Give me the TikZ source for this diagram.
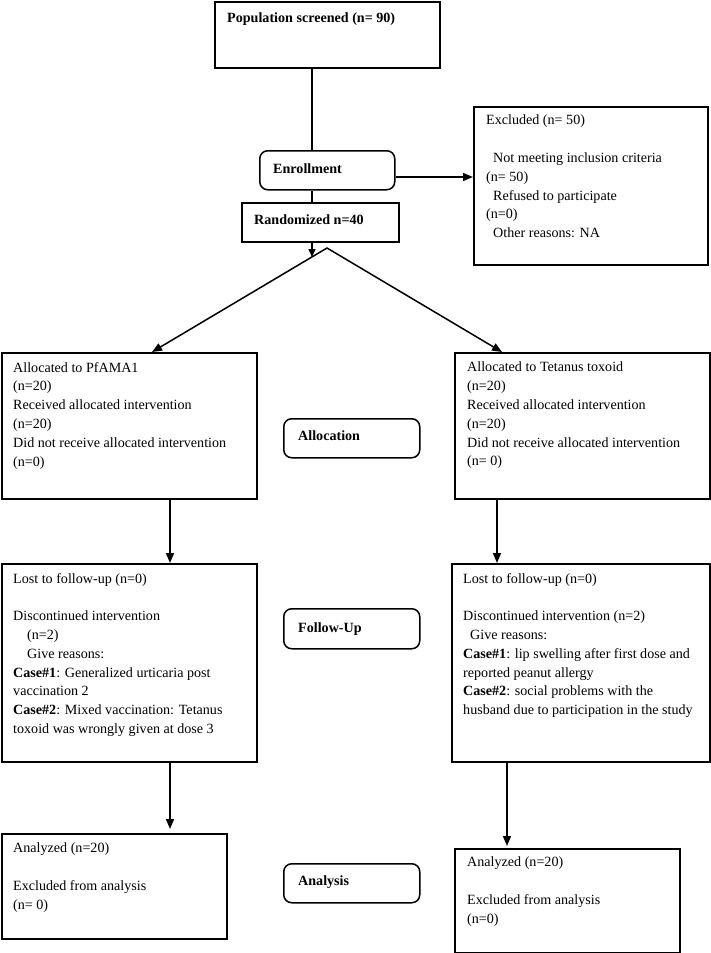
\documentclass[tikz,border=0pt]{standalone}
\usepackage{fontspec}
\setmainfont{Liberation Serif}
\usetikzlibrary{arrows.meta}
\newcommand\fs{\fontsize{14.1}{18.8}\selectfont}
\begin{document}
\begin{tikzpicture}[x=1pt,y=-1pt,
  box/.style={draw, line width=1.5pt, inner sep=0pt, anchor=north west},
  rbox/.style={box, rounded corners=8pt},
  txt/.style={anchor=north west, inner sep=0pt, align=left, font=\fs, execute at begin node=\strut},
  btxt/.style={txt, font=\fs\bfseries},
  ln/.style={line width=1.5pt},
  arr/.style={line width=1.5pt, -{Triangle[length=10pt,width=8pt]}},
  sarr/.style={line width=1.5pt, -{Triangle[length=8pt,width=7pt]}}]
\useasboundingbox (0,0) rectangle (710,953);

% boxes
\node[box, minimum width=225pt, minimum height=66pt] (pop) at (214,1) {};
\node[rbox, minimum width=135pt, minimum height=39pt] (enroll) at (259,150) {};
\node[box, minimum width=157pt, minimum height=39pt] (rand) at (241,202) {};
\node[box, minimum width=234pt, minimum height=158pt] (excl) at (473,106) {};
\node[box, minimum width=255pt, minimum height=146pt] (allocL) at (1,352) {};
\node[box, minimum width=255pt, minimum height=146pt] (allocR) at (454,352) {};
\node[rbox, minimum width=136pt, minimum height=39pt] (allocation) at (283,418) {};
\node[box, minimum width=255pt, minimum height=198pt] (followL) at (1,563) {};
\node[box, minimum width=258pt, minimum height=198pt] (followR) at (451,563) {};
\node[rbox, minimum width=136pt, minimum height=40pt] (followup) at (283,608) {};
\node[box, minimum width=225pt, minimum height=105pt] (anL) at (1,833) {};
\node[box, minimum width=225pt, minimum height=104pt] (anR) at (454,848) {};
\node[rbox, minimum width=136pt, minimum height=39pt] (analysis) at (283,863) {};

% texts
\node[btxt] (poptxt) at (227,9.5) {Population screened (n= 90)};
\node[btxt] (enrolltxt) at (273,160) {Enrollment};
\node[btxt] (randtxt) at (254,211) {Randomized n=40};
\node[txt] (excltxt) at (486,115) {Excluded (n= 50)\\[18.8pt]\hspace*{7pt}Not meeting inclusion criteria\\(n= 50)\\\hspace*{7pt}Refused to participate\\(n=0)\\\hspace*{7pt}Other reasons: NA};
\node[txt] (allocLtxt) at (13,362) {Allocated to PfAMA1\\(n=20)\\Received allocated intervention\\(n=20)\\Did not receive allocated intervention\\(n=0)};
\node[txt] (allocRtxt) at (467,362) {Allocated to Tetanus toxoid\\(n=20)\\Received allocated intervention\\(n=20)\\Did not receive allocated intervention\\(n= 0)};
\node[btxt] (allocationtxt) at (298,427) {Allocation};
\node[txt] (followLtxt) at (13,573) {Lost to follow-up (n=0)\\[18.8pt]Discontinued intervention\\\hspace*{14pt}(n=2)\\\hspace*{14pt}Give reasons:\\\textbf{Case\#1}: Generalized urticaria post\\vaccination 2\\\textbf{Case\#2}: Mixed vaccination: Tetanus\\toxoid was wrongly given at dose 3};
\node[txt] (followRtxt) at (463,573) {Lost to follow-up (n=0)\\[18.8pt]Discontinued intervention (n=2)\\\hspace*{7pt}Give reasons:\\\textbf{Case\#1}: lip swelling after first dose and\\reported peanut allergy\\\textbf{Case\#2}: social problems with the\\husband due to participation in the study};
\node[btxt] (followuptxt) at (298,619) {Follow-Up};
\node[txt] (anLtxt) at (13,843) {Analyzed (n=20)\\[18.8pt]Excluded from analysis\\(n= 0)};
\node[txt] (anRtxt) at (467,857) {Analyzed (n=20)\\[18.8pt]Excluded from analysis\\(n=0)};
\node[btxt] (analysistxt) at (298,872) {Analysis};

% helper coordinates
\coordinate (spine) at (312,0);
\coordinate (exy) at (0,177);
\coordinate (split) at (312,257);
\coordinate (apex) at (327,248);
\coordinate (tipL) at (152,0);
\coordinate (tipR) at (502,0);
\coordinate (colL) at (170,0);
\coordinate (colR) at (497,0);
\coordinate (colR2) at (507,0);

% connectors
\draw[ln] (pop.south -| spine) -- (enroll.north -| spine);
\draw[arr] (enroll.east |- exy) -- (excl.west |- exy);
\draw[ln] (enroll.south -| spine) -- (rand.north -| spine);
\draw[sarr] (rand.south -| spine) -- (split);
\draw[line width=1.5pt, {Triangle[length=10pt,width=8pt]}-{Triangle[length=10pt,width=8pt]}] (allocL.north -| tipL) -- (apex) -- (allocR.north -| tipR);
\draw[arr] (allocL.south -| colL) -- (followL.north -| colL);
\draw[arr] (allocR.south -| colR) -- (followR.north -| colR);
\draw[arr, shorten >=4pt] (followL.south -| colL) -- (anL.north -| colL);
\draw[arr, shorten >=2pt] (followR.south -| colR2) -- (anR.north -| colR2);
\end{tikzpicture}
\end{document}
